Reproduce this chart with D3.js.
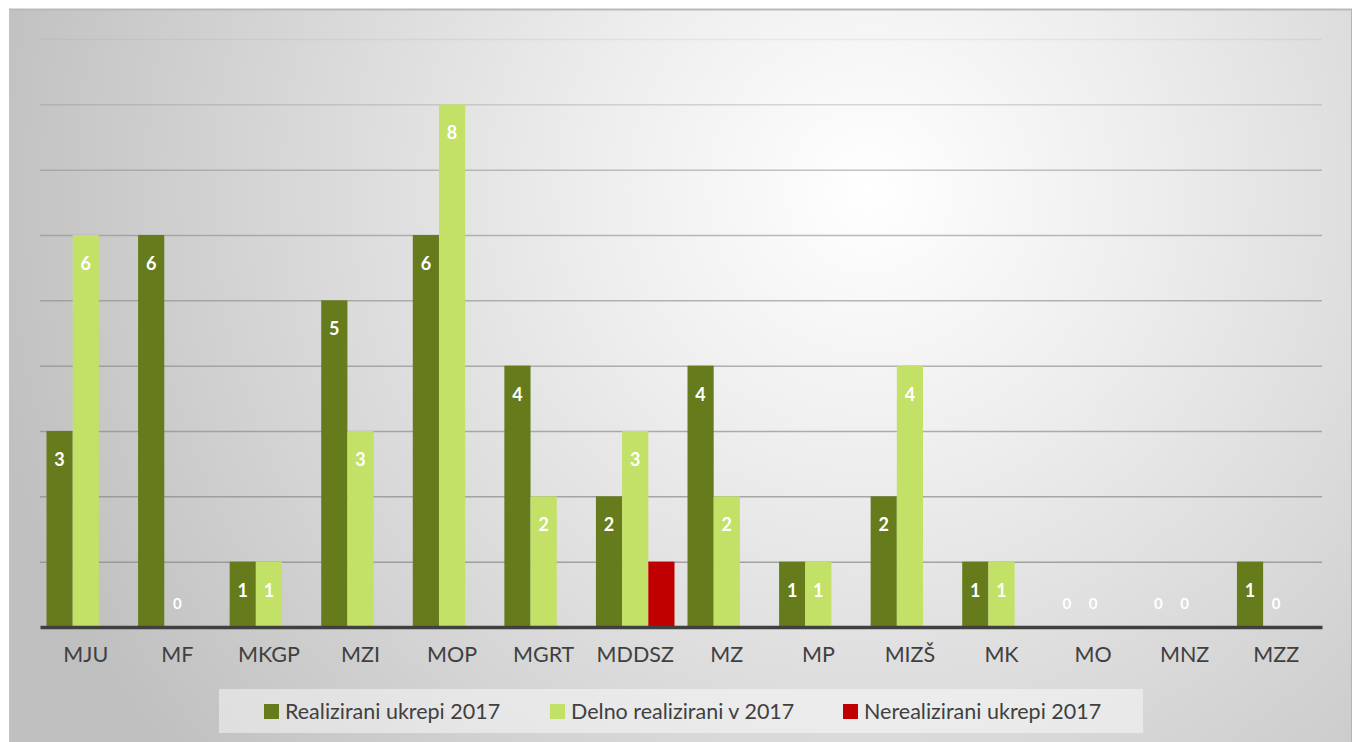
<!DOCTYPE html>
<html>
  <head>
  <meta charset="utf-8">
  <script src="https://cdnjs.cloudflare.com/ajax/libs/d3/7.8.5/d3.min.js"></script>
  <style>
    body { margin: 0; background: #fff; }
    text { font-family: Lato, "Open Sans", sans-serif; }
  </style>
  </head>
  <body>
    <div id="chart"></div>
	<script type="text/javascript">

		// data
		var categories = ["MJU","MF","MKGP","MZI","MOP","MGRT","MDDSZ","MZ","MP","MIZŠ","MK","MO","MNZ","MZZ"];
		var realizirani = [3,6,1,5,6,4,2,4,1,2,1,0,0,1];
		var delno = [6,0,1,3,8,2,3,2,1,4,1,0,0,0];
		var nerealizirani = [0,0,0,0,0,0,1,0,0,0,0,0,0,0];
		var seriesNames = ["Realizirani ukrepi 2017","Delno realizirani v 2017","Nerealizirani ukrepi 2017"];
		var seriesColors = ["#667c1c","#c3e067","#c00000"];
		var showLabels = [true, true, false];
		var yTicks = [0,1,2,3,4,5,6,7,8,9];

		var W = 1355, H = 742;
		var plotLeft = 40, plotRight = 1322, plotTop = 39, plotBottom = 627;

		var svg = d3.select("#chart")
			.append("svg")
			.attr("width", W)
			.attr("height", H);

		var defs = svg.append("defs");
		var grad = defs.append("radialGradient")
			.attr("id", "bg")
			.attr("gradientUnits", "userSpaceOnUse")
			.attr("cx", 870).attr("cy", 190).attr("r", 900);
		grad.append("stop").attr("offset", "0%").attr("stop-color", "#ffffff");
		grad.append("stop").attr("offset", "30%").attr("stop-color", "#eeeeee");
		grad.append("stop").attr("offset", "100%").attr("stop-color", "#c0c0c0");

		// gridline fade: faint at the top
		var gridGrad = defs.append("linearGradient")
			.attr("id", "gridFade")
			.attr("gradientUnits", "userSpaceOnUse")
			.attr("x1", 0).attr("x2", 0)
			.attr("y1", plotTop).attr("y2", plotBottom);
		gridGrad.append("stop").attr("offset", "0%").attr("stop-color", "#888").attr("stop-opacity", 0.12);
		gridGrad.append("stop").attr("offset", "25%").attr("stop-color", "#888").attr("stop-opacity", 0.55);
		gridGrad.append("stop").attr("offset", "100%").attr("stop-color", "#888").attr("stop-opacity", 0.75);

		// frame
		svg.append("rect")
			.attr("x", 9).attr("y", 9)
			.attr("width", 1343).attr("height", 740)
			.attr("fill", "url(#bg)");
		svg.append("line")
			.attr("x1", 9).attr("x2", 1352)
			.attr("y1", 9.5).attr("y2", 9.5)
			.attr("stroke", "#b9b9b9").attr("stroke-width", 2);
		svg.append("line")
			.attr("x1", 1351.5).attr("x2", 1351.5)
			.attr("y1", 9).attr("y2", H)
			.attr("stroke", "#b4b4b4").attr("stroke-width", 1);

		var y = d3.scaleLinear().domain([0, 9]).range([plotBottom, plotTop]);
		var x0 = d3.scaleBand().domain(categories).range([plotLeft, plotRight])
			.paddingInner(0.142).paddingOuter(0.071);
		var x1 = d3.scaleBand().domain([0,1,2]).range([0, x0.bandwidth()]);

		// gridlines
		svg.append("g").selectAll("line")
			.data(yTicks.slice(1))
			.enter().append("line")
			.attr("x1", plotLeft).attr("x2", plotRight)
			.attr("y1", function(d){ return y(d) + 0.5; })
			.attr("y2", function(d){ return y(d) + 0.5; })
			.attr("stroke", "url(#gridFade)")
			.attr("stroke-width", 1.5);

		var allSeries = [realizirani, delno, nerealizirani];

		var groups = svg.append("g").selectAll("g")
			.data(categories)
			.enter().append("g")
			.attr("transform", function(d){ return "translate(" + x0(d) + ",0)"; });

		groups.selectAll("rect")
			.data(function(d, i){ return allSeries.map(function(s, k){ return {k: k, v: s[i]}; }); })
			.enter().append("rect")
			.attr("x", function(d){ return x1(d.k); })
			.attr("width", x1.bandwidth())
			.attr("y", function(d){ return y(d.v); })
			.attr("height", function(d){ return y(0) - y(d.v); })
			.attr("fill", function(d){ return seriesColors[d.k]; });

		groups.selectAll("text")
			.data(function(d, i){
				return allSeries.map(function(s, k){ return {k: k, v: s[i]}; })
					.filter(function(d){ return showLabels[d.k]; });
			})
			.enter().append("text")
			.attr("x", function(d){ return x1(d.k) + x1.bandwidth() / 2; })
			.attr("y", function(d){ return d.v > 0 ? y(d.v) + 35 : y(0) - 18; })
			.attr("text-anchor", "middle")
			.attr("fill", "#ffffff")
			.attr("font-weight", "bold")
			.attr("font-size", function(d){ return d.v > 0 ? 18 : 15; })
			.text(function(d){ return d.v; });

		// axis
		var xAxis = svg.append("g")
			.attr("transform", "translate(0," + plotBottom + ")")
			.call(d3.axisBottom(x0).tickSize(0).tickPadding(20));
		xAxis.select(".domain")
			.attr("stroke", "#404040")
			.attr("stroke-width", 3.5);
		xAxis.selectAll("text")
			.attr("font-family", "Lato, sans-serif")
			.attr("font-size", 21.5)
			.attr("fill", "#404040");

		// legend
		svg.append("rect")
			.attr("x", 219).attr("y", 689)
			.attr("width", 924).attr("height", 44)
			.attr("fill", "#ffffff").attr("fill-opacity", 0.45);

		var legendX = [264, 550, 843];
		var legend = svg.append("g").selectAll("g")
			.data(seriesNames)
			.enter().append("g")
			.attr("transform", function(d, i){ return "translate(" + legendX[i] + ",704)"; });
		legend.append("rect")
			.attr("width", 15).attr("height", 15)
			.attr("fill", function(d, i){ return seriesColors[i]; });
		legend.append("text")
			.attr("x", 21).attr("y", 15)
			.attr("font-size", 21.5)
			.attr("fill", "#404040")
			.text(function(d){ return d; });

	</script>
  </body>
</html>
